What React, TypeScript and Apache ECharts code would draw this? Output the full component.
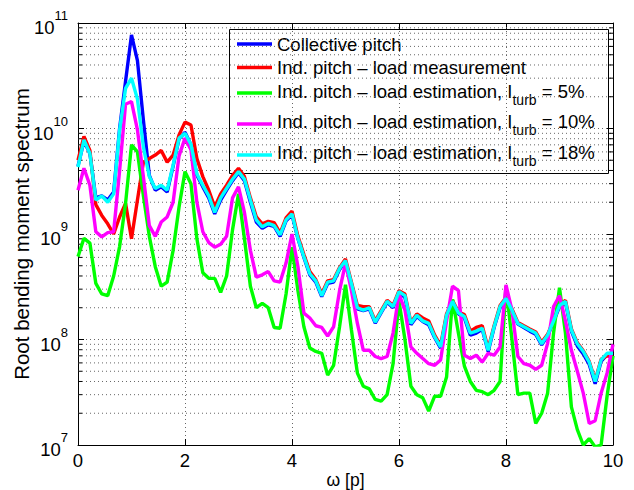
import React, { useEffect, useRef } from 'react';
import * as echarts from 'echarts';

// Frequency grid (in multiples of the rotor frequency p), 9 samples per p
const SAMPLES_PER_P = 9;
const OMEGA = Array.from({ length: 91 }, (_, i) => i / SAMPLES_PER_P);

const COLLECTIVE = [
  4.4e9, 7.6e9, 5.8e9, 2.2e9, 2.3e9, 2.1e9, 2.5e9, 1.0e10, 2.8e10, 7.7e10,
  4.4e10, 1.2e10, 3.6e9, 2.6e9, 2.8e9, 2.5e9, 4.4e9, 8.0e9, 9.2e9, 7.0e9,
  3.6e9, 2.8e9, 2.2e9, 1.55e9, 2.1e9, 2.6e9, 3.2e9, 3.8e9, 3.2e9, 2.0e9,
  1.3e9, 1.13e9, 1.22e9, 1.18e9, 9.5e8, 1.33e9, 1.52e9, 9.0e8, 6.0e8, 4.1e8,
  3.5e8, 2.55e8, 3.4e8, 3.5e8, 4.6e8, 5.5e8, 3.3e8, 1.95e8, 1.88e8, 1.95e8,
  1.43e8, 1.8e8, 2.25e8, 2.0e8, 2.8e8, 2.5e8, 1.38e8, 1.65e8, 1.48e8, 1.38e8,
  1.04e8, 8.3e7, 1.65e8, 2.25e8, 1.75e8, 1.6e8, 1.1e8, 1.15e8, 1.25e8, 7.7e7,
  1.3e8, 2.0e8, 2.4e8, 1.85e8, 1.4e8, 1.3e8, 1.2e8, 1.12e8, 8.9e7, 1.08e8,
  1.48e8, 2.05e8, 2.25e8, 1.2e8, 8.7e7, 7.3e7, 5.8e7, 3.8e7, 6.2e7, 7.2e7,
  7.5e7,
];

const IND_MEAS = [
  5.0e9, 8.4e9, 6.2e9, 1.9e9, 1.5e9, 1.25e9, 1.0e9, 1.45e9, 1.95e9, 9.0e8,
  2.1e9, 4.8e9, 5.2e9, 5.6e9, 6.2e9, 4.8e9, 5.6e9, 8.7e9, 1.15e10, 1.08e10,
  5.2e9, 3.5e9, 2.6e9, 1.8e9, 2.4e9, 2.9e9, 3.6e9, 4.2e9, 3.5e9, 2.2e9,
  1.45e9, 1.25e9, 1.32e9, 1.28e9, 1.02e9, 1.42e9, 1.65e9, 9.5e8, 6.4e8, 4.4e8,
  3.7e8, 2.7e8, 3.6e8, 3.7e8, 4.8e8, 5.8e8, 3.5e8, 2.1e8, 2.05e8, 2.05e8,
  1.5e8, 1.88e8, 2.35e8, 2.1e8, 2.9e8, 2.7e8, 1.45e8, 1.75e8, 1.6e8, 1.5e8,
  1.1e8, 8.8e7, 1.75e8, 2.35e8, 1.82e8, 1.72e8, 1.2e8, 1.3e8, 1.35e8, 8.2e7,
  1.35e8, 2.1e8, 2.5e8, 1.95e8, 1.45e8, 1.35e8, 1.26e8, 1.18e8, 9.4e7, 1.12e8,
  1.52e8, 2.15e8, 2.35e8, 1.26e8, 9.3e7, 7.8e7, 6.2e7, 4.1e7, 6.5e7, 7.0e7,
  6.8e7,
];

const EST_5 = [
  6.1e8, 9.1e8, 8.2e8, 3.4e8, 2.7e8, 2.6e8, 4.0e8, 7.6e8, 1.95e9, 7.0e9,
  6.0e9, 2.3e9, 9.5e8, 4.9e8, 3.2e8, 3.5e8, 7.0e8, 1.8e9, 3.9e9, 3.0e9,
  9.0e8, 4.3e8, 3.8e8, 3.8e8, 2.8e8, 4.0e8, 1.1e9, 2.4e9, 9.0e8, 3.2e8,
  2.0e8, 2.2e8, 2.0e8, 1.3e8, 1.28e8, 2.7e8, 7.5e8, 2.9e8, 1.32e8, 8.3e7,
  7.7e7, 7.4e7, 4.6e7, 5.7e7, 1.32e8, 3.3e8, 1.23e8, 4.8e7, 3.6e7, 3.4e7,
  2.7e7, 2.6e7, 3.0e7, 5.9e7, 2.3e8, 1.0e8, 3.6e7, 3.0e7, 2.8e7, 2.1e7,
  2.9e7, 2.9e7, 4.4e7, 2.4e8, 1.15e8, 5.6e7, 4.0e7, 3.3e7, 3.2e7, 3.0e7,
  3.3e7, 4.0e7, 3.2e8, 1.0e8, 3.0e7, 3.1e7, 3.1e7, 1.6e7, 2.0e7, 3.1e7,
  1.15e8, 3.1e8, 1.15e8, 2.3e7, 1.4e7, 1.0e7, 1.15e7, 9.6e6, 1.0e7, 2.9e7,
  7.0e7,
];

const EST_10 = [
  2.6e9, 4.2e9, 2.9e9, 1.05e9, 9.4e8, 1.03e9, 1.05e9, 4.0e9, 1.7e10, 1.8e10,
  9.7e9, 3.5e9, 1.2e9, 9.5e8, 1.3e9, 1.45e9, 2.0e9, 5.5e9, 8.1e9, 6.3e9,
  2.0e9, 1.05e9, 8.3e8, 7.5e8, 8.0e8, 9.5e8, 2.2e9, 2.8e9, 1.6e9, 7.0e8,
  3.9e8, 4.1e8, 4.4e8, 3.6e8, 3.5e8, 5.3e8, 1.0e9, 4.9e8, 1.78e8, 1.6e8,
  1.35e8, 1.3e8, 1.08e8, 1.32e8, 2.9e8, 5.3e8, 2.9e8, 1.42e8, 7.9e7, 7.9e7,
  6.9e7, 6.6e7, 6.9e7, 1.15e8, 2.7e8, 1.9e8, 8.5e7, 7.4e7, 6.6e7, 5.9e7,
  5.7e7, 6.4e7, 1.5e8, 3.2e8, 2.9e8, 7.1e7, 6.6e7, 7.1e7, 6.1e7, 7.4e7,
  7.1e7, 8.5e7, 3.3e8, 1.9e8, 6.9e7, 5.9e7, 5.7e7, 5.2e7, 5.7e7, 9.2e7,
  2.05e8, 2.6e8, 1.5e8, 7.9e7, 5.0e7, 3.1e7, 1.6e7, 1.7e7, 3.1e7, 4.8e7,
  9.0e7,
];

const EST_18 = [
  4.3e9, 7.8e9, 5.8e9, 2.1e9, 2.3e9, 2.0e9, 2.4e9, 9.7e9, 2.4e10, 3.0e10,
  1.9e10, 6.7e9, 3.5e9, 2.7e9, 2.9e9, 2.6e9, 4.5e9, 8.1e9, 9.0e9, 7.1e9,
  3.7e9, 2.9e9, 2.3e9, 1.6e9, 2.2e9, 2.7e9, 3.3e9, 3.9e9, 3.3e9, 2.1e9,
  1.36e9, 1.17e9, 1.26e9, 1.2e9, 9.8e8, 1.36e9, 1.55e9, 9.1e8, 6.1e8, 4.2e8,
  3.6e8, 2.6e8, 3.5e8, 3.6e8, 4.7e8, 5.6e8, 3.4e8, 2.0e8, 1.9e8, 2.0e8,
  1.46e8, 1.83e8, 2.3e8, 2.05e8, 2.85e8, 2.6e8, 1.42e8, 1.7e8, 1.5e8, 1.42e8,
  1.06e8, 8.5e7, 1.7e8, 2.3e8, 1.78e8, 1.65e8, 1.15e8, 1.2e8, 1.28e8, 7.9e7,
  1.32e8, 2.05e8, 2.45e8, 1.9e8, 1.42e8, 1.32e8, 1.23e8, 1.15e8, 9.1e7, 1.1e8,
  1.5e8, 2.1e8, 2.3e8, 1.23e8, 9.1e7, 7.7e7, 6.1e7, 4.0e7, 6.4e7, 7.4e7,
  7.4e7,
];

const SERIES_NAMES = [
  'Collective pitch',
  'Ind. pitch – load measurement',
  'Ind. pitch – load estimation, Iturb = 5%',
  'Ind. pitch – load estimation, Iturb = 10%',
  'Ind. pitch – load estimation, Iturb = 18%',
];
const LEGEND_RICH_TEXT = [
  '{m|Collective pitch}',
  '{m|Ind. pitch – load measurement}',
  '{m|Ind. pitch – load estimation, I}{s|turb}{m| = 5%}',
  '{m|Ind. pitch – load estimation, I}{s|turb}{m| = 10%}',
  '{m|Ind. pitch – load estimation, I}{s|turb}{m| = 18%}',
];
const SERIES_COLORS = ['#0000ff', '#ff0000', '#00ff00', '#ff00ff', '#00ffff'];
const SERIES_VALUES = [COLLECTIVE, IND_MEAS, EST_5, EST_10, EST_18];

const X_MIN = 0;
const X_MAX = 10;
const X_INTERVAL = 2;
const Y_MIN = 1e7;
const Y_MAX = 1e11;
const MINOR_MULTIPLIERS = [2, 3, 4, 5, 6, 7, 8, 9];
const DECADES = [7, 8, 9, 10];

const X_NAME = 'ω [p]';
const Y_NAME = 'Root bending moment spectrum';

const FONT = '"Liberation Sans", Arial, Helvetica, sans-serif';
const GRID_COLOR = '#666';

export default function App() {
  const ref = useRef<HTMLDivElement>(null);

  useEffect(() => {
    if (!ref.current) return;
    const chart = echarts.init(ref.current, undefined, { renderer: 'svg' });

    const minorValues: number[] = [];
    DECADES.forEach((d) => MINOR_MULTIPLIERS.forEach((m) => minorValues.push(m * Math.pow(10, d))));

    const legendTop = 29.5;
    const legendLeft = 229.5;
    const rowCenters = [44, 67.5, 91.5, 121.5, 152.5];
    const lineCenters = [44, 67.5, 93, 124, 155];

    const legendChildren: any[] = [
      {
        type: 'rect',
        shape: { x: legendLeft, y: legendTop, width: 379, height: 144 },
        style: { fill: '#fff', stroke: '#000', lineWidth: 1 },
      },
    ];
    SERIES_NAMES.forEach((_, i) => {
      legendChildren.push({
        type: 'line',
        shape: { x1: 237, y1: lineCenters[i], x2: 272, y2: lineCenters[i] },
        style: { stroke: SERIES_COLORS[i], lineWidth: 3.4 },
      });
      legendChildren.push({
        type: 'text',
        x: 277,
        y: rowCenters[i] - 9.25,
        style: {
          text: LEGEND_RICH_TEXT[i],
          fill: '#000',
          align: 'left',
          verticalAlign: 'top',
          rich: {
            m: { fontSize: 18.5, fontFamily: FONT, fill: '#000', lineHeight: 25, verticalAlign: 'top' },
            s: { fontSize: 14, fontFamily: FONT, fill: '#000', verticalAlign: 'bottom' },
          },
        },
      });
    });

    const option: any = {
      animation: false,
      backgroundColor: '#fff',
      textStyle: { fontFamily: FONT },
      grid: { left: 78, right: 21, top: 23, bottom: 45, containLabel: false, outerBoundsMode: 'none' },
      xAxis: [
        {
          type: 'value',
          min: X_MIN,
          max: X_MAX,
          interval: X_INTERVAL,
          name: X_NAME,
          nameLocation: 'middle',
          nameGap: 26,
          nameMoveOverlap: false,
          nameTextStyle: { fontSize: 17.5, color: '#000', fontFamily: FONT },
          axisLine: { show: true, lineStyle: { color: '#000', width: 1 } },
          axisTick: { show: true, inside: true, length: 6, lineStyle: { color: '#000' } },
          axisLabel: { fontSize: 18.5, color: '#000', margin: 6, fontFamily: FONT },
          splitLine: { show: true, lineStyle: { color: GRID_COLOR, type: [1, 3], width: 1 } },
        },
        {
          type: 'value',
          position: 'top',
          min: X_MIN,
          max: X_MAX,
          interval: X_INTERVAL,
          axisLine: { show: true, onZero: false, lineStyle: { color: '#000', width: 1 } },
          axisTick: { show: true, inside: true, length: 6, lineStyle: { color: '#000' } },
          axisLabel: { show: false },
          splitLine: { show: false },
        },
      ],
      yAxis: [
        {
          type: 'log',
          logBase: 10,
          min: Y_MIN,
          max: Y_MAX,
          name: Y_NAME,
          nameLocation: 'middle',
          nameRotate: 90,
          nameGap: 46,
          nameMoveOverlap: false,
          nameTextStyle: { fontSize: 20.5, color: '#000', fontFamily: FONT },
          axisLine: { show: true, onZero: false, lineStyle: { color: '#000', width: 1 } },
          axisTick: { show: true, inside: true, length: 6, lineStyle: { color: '#000' } },
          axisLabel: {
            margin: 10,
            formatter: (v: number) => `{m|10}{s|${Math.round(Math.log10(v))}}`,
            rich: {
              m: { fontSize: 18.5, color: '#000', fontFamily: FONT, lineHeight: 28, verticalAlign: 'bottom' },
              s: { fontSize: 13, color: '#000', fontFamily: FONT, verticalAlign: 'top' },
            },
          },
          splitLine: { show: true, lineStyle: { color: GRID_COLOR, type: [1, 3], width: 1 } },
        },
        {
          type: 'log',
          logBase: 10,
          position: 'right',
          min: Y_MIN,
          max: Y_MAX,
          axisLine: { show: true, onZero: false, lineStyle: { color: '#000', width: 1 } },
          axisTick: { show: true, inside: true, length: 6, lineStyle: { color: '#000' } },
          axisLabel: { show: false },
          splitLine: { show: false },
        },
      ],
      series: [
        {
          type: 'custom',
          name: 'minor-grid',
          xAxisIndex: 0,
          yAxisIndex: 0,
          silent: true,
          z: 1,
          clip: false,
          data: minorValues.map((v) => [X_MIN, v]),
          renderItem: (_params: any, api: any) => {
            const v = api.value(1);
            const p0 = api.coord([X_MIN, v]);
            const p1 = api.coord([X_MAX, v]);
            return {
              type: 'group',
              children: [
                {
                  type: 'line',
                  shape: { x1: p0[0], y1: p0[1], x2: p1[0], y2: p1[1] },
                  style: { stroke: GRID_COLOR, lineWidth: 1, lineDash: [1, 3] },
                },
                {
                  type: 'line',
                  shape: { x1: p0[0], y1: p0[1], x2: p0[0] + 4, y2: p0[1] },
                  style: { stroke: '#000', lineWidth: 1 },
                },
                {
                  type: 'line',
                  shape: { x1: p1[0] - 4, y1: p1[1], x2: p1[0], y2: p1[1] },
                  style: { stroke: '#000', lineWidth: 1 },
                },
              ],
            };
          },
        },
        ...SERIES_NAMES.map((name, si) => ({
          type: 'line',
          name,
          xAxisIndex: 0,
          yAxisIndex: 0,
          z: 3 + si,
          showSymbol: false,
          symbol: 'none',
          lineStyle: { color: SERIES_COLORS[si], width: 3.4 },
          itemStyle: { color: SERIES_COLORS[si] },
          data: OMEGA.map((x, i) => [x, SERIES_VALUES[si][i]]),
        })),
      ],
      graphic: [
        {
          type: 'group',
          z: 100,
          children: legendChildren,
        },
      ],
    };

    chart.setOption(option);
    return () => chart.dispose();
  }, []);

  return (
    <div
      ref={ref}
      style={{ position: 'fixed', left: 0, top: 0, width: 634, height: 490, background: '#fff' }}
    />
  );
}
